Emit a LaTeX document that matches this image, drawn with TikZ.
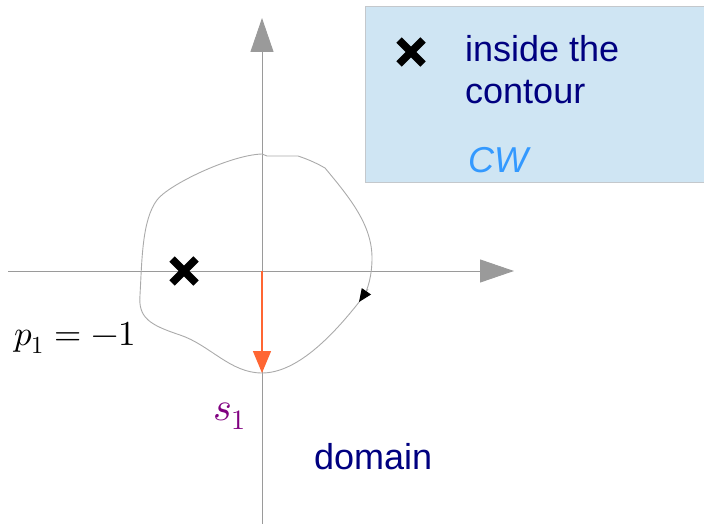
\documentclass[tikz,border=0pt]{standalone}
\usepackage{fontspec}
\usepackage{unicode-math}
\setmainfont{Liberation Sans}
\setmathfont{Latin Modern Math}
\usepackage{tikz}
\usetikzlibrary{arrows.meta,positioning,calc}
\definecolor{cxAxis}{HTML}{9A9A9A}
\definecolor{cxCurve}{HTML}{AAAAAA}
\definecolor{cxNavy}{HTML}{000080}
\definecolor{cxSky}{HTML}{3399FF}
\definecolor{cxOrange}{HTML}{FF6633}
\definecolor{cxPurple}{HTML}{800080}
\definecolor{cxBoxBg}{HTML}{CFE5F3}
\definecolor{cxBoxLine}{HTML}{C4C8CC}
\tikzset{
  % Axis lines
  axis/.style={draw=cxAxis,line width=1pt,
    -{Triangle[length=34pt,width=23pt,fill=cxAxis]}},
  % Contour curve
  curve/.style={draw=cxCurve,line width=0.9pt},
  % Legend box
  legbox/.style={rectangle,draw=cxBoxLine,fill=cxBoxBg,line width=1pt,
    minimum width=345pt,minimum height=176pt,anchor=north west},
  % Texts
  navy/.style={font=\fontsize{36}{42}\selectfont,text=cxNavy,
    inner sep=0pt,anchor=base west,align=left},
  mth/.style={font=\fontsize{35}{40}\selectfont,inner sep=0pt,anchor=base west},
}
\newcommand{\cross}[2]{%
  \draw[line width=7.5pt,#2] ($(#1)+(-12,-12)$) -- ($(#1)+(12,12)$)
    ($(#1)+(-12,12)$) -- ($(#1)+(12,-12)$);}
\begin{document}
\begin{tikzpicture}[x=1pt,y=-1pt]
  \useasboundingbox (0,0) rectangle (704,524);
  % legend
  \node[legbox] (leg) at (365,6) {};
  \coordinate (lx) at (411,52);
  \cross{lx}{black}
  \node[navy] (lin) at (465,104) {inside the\\contour};
  \node[navy,text=cxSky,font=\fontsize{36}{42}\itshape] (cw) at (468,172) {CW};

  % axes
  \coordinate (o) at (262,271);
  \coordinate (xl) at (8,271);
  \coordinate (xr) at (514,271);
  \coordinate (yb) at (262,524);
  \coordinate (yt) at (262,18);
  \draw[axis] (xl) -- (xr);
  \draw[axis] (yb) -- (yt);

  % contour
  \draw[curve] (262,154) -- (267,156) -- (298,156)
    .. controls (310,160) and (318,164) .. (325,168)
    .. controls (350,198) and (372,225) .. (372,258)
    .. controls (372,275) and (368,290) .. (363,297)
    .. controls (330,340) and (295,373) .. (262,373)
    .. controls (230,373) and (210,345) .. (180,335)
    .. controls (150,325) and (138,318) .. (140,295)
    .. controls (142,260) and (142,220) .. (157,200)
    .. controls (168,185) and (230,155) .. (262,154) -- cycle;
  \coordinate (ca) at (368,289);
  \coordinate (cb) at (359,302);
  \draw[cxCurve,line width=0.9pt,
    -{Triangle[length=13pt,width=11pt,color=black]}] (ca) -- (cb);

  % residue arrow
  \coordinate (sb) at (262,373);
  \draw[draw=cxOrange,line width=1.4pt,
    -{Triangle[length=22pt,width=18pt,fill=cxOrange]}] (o) -- (sb);

  % pole
  \coordinate (p) at (184,271);
  \cross{p}{black}

  % labels
  \node[mth] (plab) at (14,345) {$p_1 = -1$};
  \node[mth,text=cxPurple,font=\fontsize{40}{44}\selectfont] (slab) at (213,420) {$s_1$};
  \node[navy] (dom) at (314,469) {domain};
\end{tikzpicture}
\end{document}
